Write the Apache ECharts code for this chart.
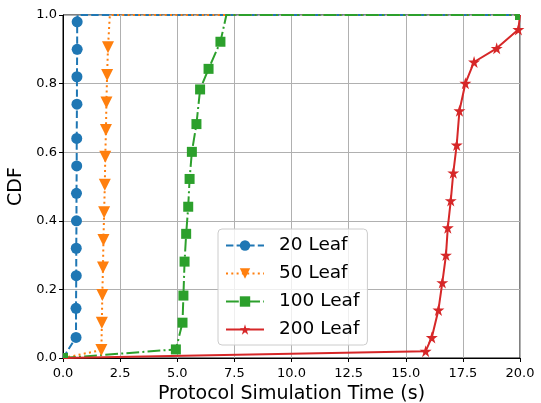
<!DOCTYPE html>
<html>
<head>
<meta charset="utf-8">
<script src="https://cdn.jsdelivr.net/npm/echarts@6/dist/echarts.min.js"></script>
<style>
  html, body { margin: 0; padding: 0; background: #fff; }
  #chart { width: 541px; height: 403px; }
</style>
</head>
<body>
<div id="chart"></div>
<script>
// values
var leaf20Time = [0, 0.57, 0.57, 0.58, 0.58, 0.59, 0.59, 0.60, 0.60, 0.61, 0.61, 0.62, 0.62, 0.64, 20]
var leaf20Cdf  = [0, 0.06, 0.145, 0.24, 0.32, 0.40, 0.48, 0.56, 0.64, 0.74, 0.82, 0.90, 0.98, 1.0, 1.0]

var leaf50Time = [0, 1.68, 1.70, 1.72, 1.75, 1.77, 1.80, 1.83, 1.85, 1.88, 1.90, 1.93, 1.97, 2.05, 20]
var leaf50Cdf  = [0, 0.023, 0.103, 0.184, 0.264, 0.344, 0.425, 0.505, 0.587, 0.665, 0.745, 0.825, 0.906, 1.0, 1.0]

var leaf100Time = [0, 4.94, 5.23, 5.27, 5.32, 5.39, 5.48, 5.54, 5.64, 5.84, 6.00, 6.37, 6.89, 7.15, 20]
var leaf100Cdf  = [0, 0.025, 0.103, 0.182, 0.281, 0.362, 0.441, 0.522, 0.601, 0.682, 0.783, 0.843, 0.922, 1.0, 1.0]

var leaf200Time = [0, 15.87, 16.14, 16.43, 16.60, 16.76, 16.84, 16.97, 17.08, 17.23, 17.35, 17.61, 17.99, 18.98, 19.93, 20]
var leaf200Cdf  = [0, 0.020, 0.060, 0.140, 0.220, 0.300, 0.380, 0.459, 0.540, 0.621, 0.721, 0.801, 0.863, 0.903, 0.958, 1.0]

var names = ['20 Leaf', '50 Leaf', '100 Leaf', '200 Leaf']
var colors = ['#1f77b4', '#ff7f0e', '#2ca02c', '#d62728']

var FONT = 'DejaVu Sans'
var triDown = 'path://M0,0 L10,0 L5,10 Z'
var star = 'path://M50,0 L61,35 L98,35 L68,57 L79,91 L50,70 L21,91 L32,57 L2,35 L39,35 Z'

// first point sits on the origin and the last ones on the top edge,
// matplotlib clips those markers so they are hidden here
function pairs(xs, ys, keepCorner) {
  return xs.map(function (x, i) {
    var item = { value: [x, ys[i]] }
    var onEdge = (x === 0 && ys[i] === 0) || (ys[i] === 1.0 && (x === 20 || i === xs.length - 2))
    if (onEdge) {
      if (keepCorner && x === 20) {
        item.symbolSize = 5
        item.symbolOffset = [-2.5, 2.5]
      } else if (keepCorner && x === 0) {
        item.symbolSize = 5
        item.symbolOffset = [2.5, -2.5]
      } else {
        item.symbol = 'none'
      }
    }
    return item
  })
}

function makeSeries(i, xs, ys, symbol, size, dash, keepCorner) {
  return {
    name: names[i],
    type: 'line',
    data: pairs(xs, ys, keepCorner),
    symbol: symbol,
    symbolSize: size,
    showAllSymbol: true,
    animation: false,
    clip: true,
    itemStyle: { color: colors[i], borderWidth: 0 },
    lineStyle: { color: colors[i], width: 2, type: dash, cap: 'butt' }
  }
}

var chart = echarts.init(document.getElementById('chart'))

chart.setOption({
  animation: false,
  grid: {
    left: 63, right: 21, top: 15, bottom: 45,
    outerBoundsMode: 'none',
    containLabel: false,
    show: true, borderColor: '#000', borderWidth: 1
  },
  xAxis: {
    type: 'value',
    min: 0, max: 20, interval: 2.5,
    name: 'Protocol Simulation Time (s)',
    nameLocation: 'middle',
    nameGap: 24,
    nameTextStyle: { fontFamily: FONT, fontSize: 19, color: '#000' },
    axisLine: { show: true, lineStyle: { color: '#000', width: 1 } },
    axisTick: { show: true, length: 4, lineStyle: { color: '#000' } },
    axisLabel: {
      margin: 9, fontFamily: FONT, fontSize: 13, color: '#000',
      formatter: function (v) { return v.toFixed(1) }
    },
    splitLine: { show: true, lineStyle: { color: '#b0b0b0', width: 1 } }
  },
  yAxis: {
    type: 'value',
    min: 0, max: 1, interval: 0.2,
    name: 'CDF',
    nameLocation: 'middle',
    nameGap: 32,
    nameTextStyle: { fontFamily: FONT, fontSize: 19, color: '#000' },
    axisLine: { show: true, lineStyle: { color: '#000', width: 1 } },
    axisTick: { show: true, length: 4, lineStyle: { color: '#000' } },
    axisLabel: {
      margin: 6, fontFamily: FONT, fontSize: 13, color: '#000',
      formatter: function (v) { return v.toFixed(1) }
    },
    splitLine: { show: true, lineStyle: { color: '#b0b0b0', width: 1 } }
  },
  legend: {
    orient: 'vertical',
    left: 218,
    top: 229,
    padding: [7, 8, 6, 7],
    itemWidth: 38,
    itemHeight: 13,
    itemGap: 9,
    backgroundColor: 'rgba(255,255,255,0.8)',
    borderColor: '#cccccc',
    borderWidth: 1,
    borderRadius: 4,
    textStyle: { fontFamily: FONT, fontSize: 18.5, color: '#000', padding: [0, 0, 0, 10] },
    data: names
  },
  series: [
    makeSeries(0, leaf20Time, leaf20Cdf, 'circle', 11, [7.4, 3.2], false),
    makeSeries(1, leaf50Time, leaf50Cdf, triDown, 12, [2, 3.3], false),
    makeSeries(2, leaf100Time, leaf100Cdf, 'rect', 10, [12.8, 3.2, 2, 3.2], true),
    makeSeries(3, leaf200Time, leaf200Cdf, star, 12, 'solid', false)
  ]
})
</script>
</body>
</html>
